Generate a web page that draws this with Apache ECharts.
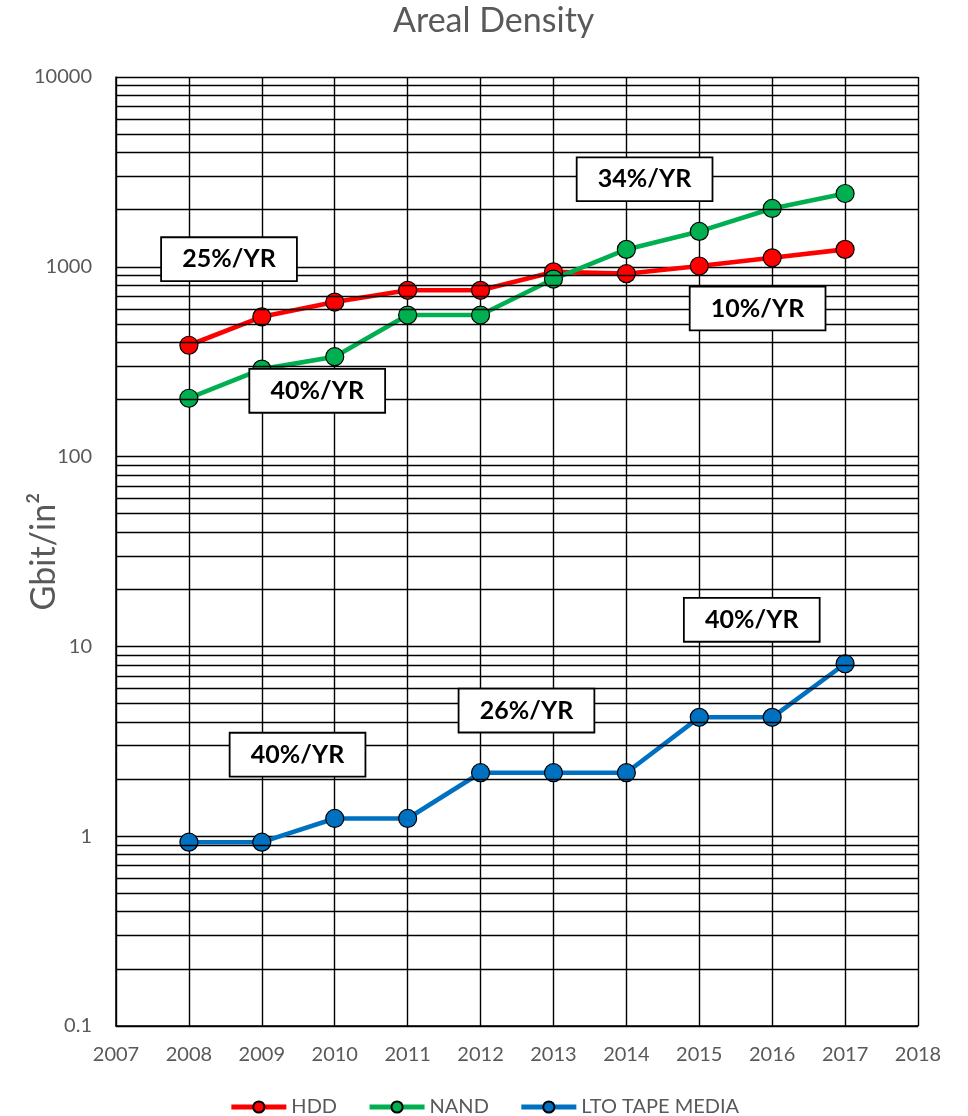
<!DOCTYPE html>
<html>
<head>
<meta charset="utf-8">
<script src="https://cdn.jsdelivr.net/npm/echarts@6/dist/echarts.min.js"></script>
<style>
html,body{margin:0;padding:0;background:#fff;}
#chart{width:968px;height:1116px;}
</style>
</head>
<body>
<div id="chart"></div>
<script>
// ---- data ----
const years = [2008, 2009, 2010, 2011, 2012, 2013, 2014, 2015, 2016, 2017];
const hdd  = [386, 545, 652, 752, 752, 940, 920, 1010, 1115, 1235];
const nand = [203, 289, 336, 557, 557, 862, 1235, 1536, 2030, 2434];
const lto  = [0.93, 0.93, 1.24, 1.24, 2.16, 2.16, 2.16, 4.23, 4.23, 8.1];
const seriesNames = ['HDD', 'NAND', 'LTO TAPE MEDIA'];
const seriesColors = ['#FF0000', '#00B050', '#0070C0'];
const xTicks = [2007, 2018];
const yTicks = [0.1, 10000];
const decades = [0.1, 1, 10, 100, 1000];
const minorSteps = [2, 3, 4, 5, 6, 7, 8, 9];
// annotation labels: [x, y, text]
const noteX = [2008.55, 2009.76, 2014.25, 2015.80, 2009.49, 2012.63, 2015.72];
const noteY = [1097, 222, 2894, 603, 2.69, 4.59, 13.8];
const noteText = ['25%/YR', '40%/YR', '34%/YR', '10%/YR', '40%/YR', '26%/YR', '40%/YR'];

const FONT = 'Lato, "Open Sans", sans-serif';
const GRAY = '#595959';

const minorLines = [];
decades.forEach(d => minorSteps.forEach(k => minorLines.push({ yAxis: +(d * k).toPrecision(3) })));

const dataSeries = [hdd, nand, lto].map((vals, i) => ({
  name: seriesNames[i],
  type: 'line',
  z: 3,
  data: years.map((y, j) => [y, vals[j]]),
  symbol: 'circle',
  symbolSize: 18,
  showSymbol: true,
  lineStyle: { color: seriesColors[i], width: 4.6 },
  itemStyle: { color: seriesColors[i], borderColor: '#000', borderWidth: 1.2 },
  emphasis: { disabled: true },
  animation: false
}));

const option = {
  animation: false,
  backgroundColor: '#fff',
  title: {
    text: 'Areal Density',
    left: 393,
    top: 4,
    padding: [0, 0, 0, 0],
    textStyle: { fontFamily: FONT, fontSize: 34, fontWeight: 'normal', color: GRAY }
  },
  legend: {
    data: seriesNames,
    top: 1097,
    left: 'center',
    padding: 0,
    itemWidth: 55,
    itemHeight: 14,
    itemGap: 30,
    lineStyle: { width: 5 },
    textStyle: { fontFamily: FONT, fontSize: 20, color: GRAY }
  },
  grid: { left: 116, right: 50, top: 77, bottom: 90, containLabel: false, outerBoundsMode: 'none' },
  xAxis: {
    type: 'value',
    min: xTicks[0],
    max: xTicks[1],
    interval: 1,
    axisLine: { show: true, lineStyle: { color: '#000', width: 1.5 } },
    axisTick: { show: false },
    axisLabel: {
      fontFamily: FONT, fontSize: 20, color: GRAY, margin: 19,
      formatter: v => String(v)
    },
    splitLine: { show: true, lineStyle: { color: '#000', width: 1.4 } }
  },
  yAxis: {
    type: 'log',
    logBase: 10,
    min: yTicks[0],
    max: yTicks[1],
    name: 'Gbit/in\u00B2',
    nameLocation: 'middle',
    nameGap: 55,
    nameMoveOverlap: false,
    nameTextStyle: { fontFamily: FONT, fontSize: 34, color: GRAY },
    axisLine: { show: true, lineStyle: { color: '#000', width: 1.5 } },
    axisTick: { show: false },
    axisLabel: {
      fontFamily: FONT, fontSize: 20, color: GRAY, margin: 24,
      formatter: v => String(v)
    },
    splitLine: { show: true, lineStyle: { color: '#000', width: 1.4 } }
  },
  series: [
    {
      name: 'minor-grid',
      type: 'line',
      z: 1,
      data: [],
      silent: true,
      markLine: {
        silent: true,
        symbol: ['none', 'none'],
        label: { show: false },
        lineStyle: { color: '#000', width: 1.4, type: 'solid' },
        emphasis: { disabled: true },
        animation: false,
        data: minorLines
      }
    },
    ...dataSeries,
    {
      name: 'notes',
      type: 'line',
      z: 6,
      data: [],
      silent: true,
      markPoint: {
        silent: true,
        animation: false,
        symbol: 'circle',
        symbolSize: 1,
        itemStyle: { color: 'rgba(0,0,0,0)' },
        label: {
          show: true,
          position: 'inside',
          fontFamily: FONT,
          fontSize: 25,
          fontWeight: 'bold',
          color: '#000',
          backgroundColor: '#fff',
          borderColor: '#000',
          borderWidth: 1.8,
          width: 134,
          height: 42,
          lineHeight: 42,
          align: 'center',
          verticalAlign: 'middle',
          padding: 0,
          formatter: p => p.name
        },
        data: noteText.map((t, i) => ({ name: t, coord: [noteX[i], noteY[i]] }))
      }
    }
  ]
};

const chart = echarts.init(document.getElementById('chart'), null, { renderer: 'canvas' });
chart.setOption(option);
</script>
</body>
</html>
